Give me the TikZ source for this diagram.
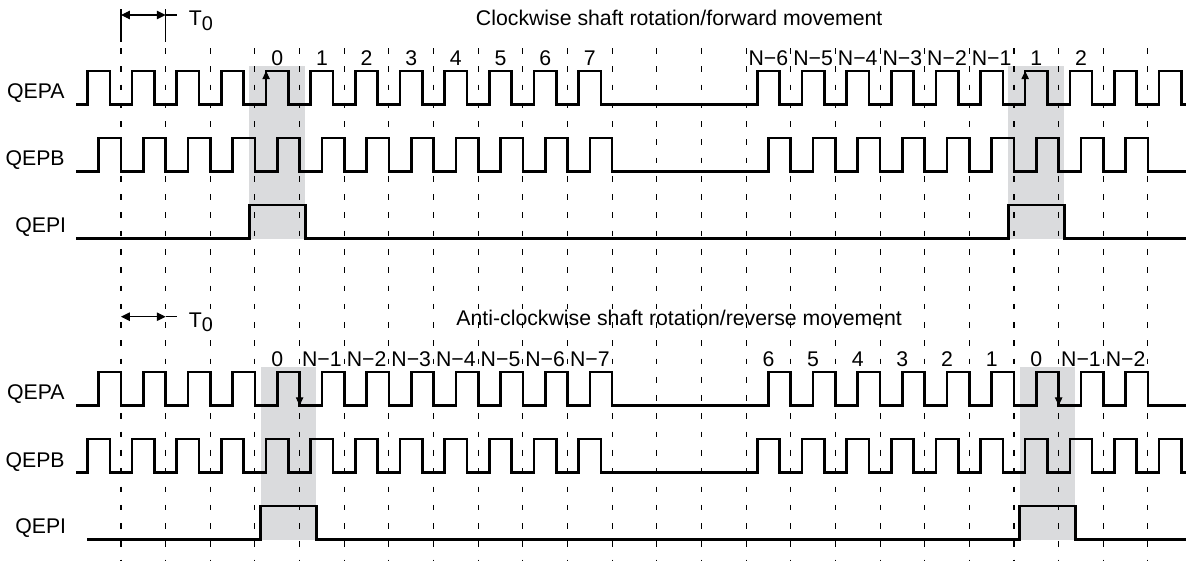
\documentclass[tikz,border=0pt]{standalone}
\usepackage{fontspec}
\setmainfont{Liberation Sans}
\usetikzlibrary{arrows.meta}
\definecolor{shadegray}{RGB}{218,219,221}
\newcommand{\gx}[1]{(121+44.65*(#1))}
\newcommand{\lowsub}[1]{\raisebox{-2.4pt}{\fontsize{11.3pt}{12pt}\selectfont #1}}
\tikzset{
  wave/.style={line width=1.5pt, line join=miter},
  gridline/.style={line width=0.6pt, dash pattern=on 3.2pt off 7.2pt},
  fine/.style={line width=0.6pt},
  dim/.style={fine, <->, >={Triangle[length=5pt,width=4.8pt]}},
  edgemark/.style={fine, ->, >={Triangle[length=4.6pt,width=4.2pt]}},
  txt/.style={inner sep=0pt, font=\fontsize{12.1pt}{14pt}\selectfont}
}

\begin{document}
\begin{tikzpicture}[x=0.02cm, y=-0.02cm]
    \useasboundingbox (0,0) rectangle (1189,561);

    % index windows
    \fill[shadegray] ({\gx{3}-5.58},66) rectangle ({\gx{4}+5.58},238.5);
    \fill[shadegray] ({\gx{20}-5.58},66) rectangle ({\gx{21}+5.58},238.5);
    \fill[shadegray] ({\gx{3}+5.58},367) rectangle ({\gx{4}+16.74},539.5);
    \fill[shadegray] ({\gx{20}+5.58},367) rectangle ({\gx{21}+16.74},539.5);

    % grid
    \foreach \k in {0,...,23}
        \draw[gridline] ({\gx{\k}},48) -- ({\gx{\k}},560);

    % period marks
    \coordinate (t0a) at (121,15);
    \coordinate (t0b) at (165.65,15);
    \coordinate (t0c) at (177.3,15);
    \draw[fine] (121,9) -- (121,42.3) (165.65,9) -- (165.65,42.3);
    \draw[dim] (t0a) -- (t0b);
    \draw[fine] (t0b) -- (t0c);
    \node[txt, anchor=base west] (t0-cw) at (188.5,26) {T\lowsub{0}};

    \coordinate (r0a) at (121,316.7);
    \coordinate (r0b) at (165.65,316.7);
    \coordinate (r0c) at (177.3,316.7);
    \draw[dim] (r0a) -- (r0b);
    \draw[fine] (r0b) -- (r0c);
    \node[txt, anchor=base west] (t0-ccw) at (188.5,327) {T\lowsub{0}};

    % titles
    \node[txt, anchor=base] (cw-title) at (679.2,26) {Clockwise shaft rotation/forward movement};
    \node[txt, anchor=base] (ccw-title) at (679.2,325.7) {Anti-clockwise shaft rotation/reverse movement};

    % signal names
    \node[txt, anchor=base east] (cw-qepa) at (65,98) {QEPA};
    \node[txt, anchor=base east] (cw-qepb) at (65,165.5) {QEPB};
    \node[txt, anchor=base east] (cw-qepi) at (66.5,232.5) {QEPI};
    \node[txt, anchor=base east] (ccw-qepa) at (65,399.5) {QEPA};
    \node[txt, anchor=base east] (ccw-qepb) at (65,467) {QEPB};
    \node[txt, anchor=base east] (ccw-qepi) at (66.5,533.5) {QEPI};

    % counts
    \foreach \k/\c in {3/0,4/1,5/2,6/3,7/4,8/5,9/6,10/7,14/N−6,15/N−5,16/N−4,17/N−3,18/N−2,19/N−1,20/1,21/2}
        \node[txt, anchor=base] (cw-count-\k) at ({\gx{\k}+22.33},65) {\c};
    \foreach \k/\c in {3/0,4/N−1,5/N−2,6/N−3,7/N−4,8/N−5,9/N−6,10/N−7,14/6,15/5,16/4,17/3,18/2,19/1,20/0,21/N−1,22/N−2}
        \node[txt, anchor=base] (ccw-count-\k) at ({\gx{\k}+22.33},366) {\c};

    % clockwise
    \draw[wave] (76,104.5)
        \foreach \k in {-1,...,10} { -- ({\gx{\k}+11.16},104.5) -- ({\gx{\k}+11.16},71) -- ({\gx{\k}+33.49},71) -- ({\gx{\k}+33.49},104.5) }
        \foreach \k in {14,...,23} { -- ({\gx{\k}+11.16},104.5) -- ({\gx{\k}+11.16},71) -- ({\gx{\k}+33.49},71) -- ({\gx{\k}+33.49},104.5) }
        -- (1186,104.5);
    \draw[wave] (76,171.5)
        \foreach \k in {-1,...,10} { -- ({\gx{\k}+22.33},171.5) -- ({\gx{\k}+22.33},138) -- ({\gx{\k}+44.65},138) -- ({\gx{\k}+44.65},171.5) }
        \foreach \k in {14,...,22} { -- ({\gx{\k}+22.33},171.5) -- ({\gx{\k}+22.33},138) -- ({\gx{\k}+44.65},138) -- ({\gx{\k}+44.65},171.5) }
        -- (1186,171.5);
    \draw[wave] (76,238.5) -- ({\gx{3}-5.58},238.5) -- ({\gx{3}-5.58},205) -- ({\gx{4}+5.58},205) -- ({\gx{4}+5.58},238.5)
        -- ({\gx{20}-5.58},238.5) -- ({\gx{20}-5.58},205) -- ({\gx{21}+5.58},205) -- ({\gx{21}+5.58},238.5) -- (1186,238.5);
    \draw[edgemark] ({\gx{3}+11.16},95) -- ({\gx{3}+11.16},71);
    \draw[edgemark] ({\gx{20}+11.16},95) -- ({\gx{20}+11.16},71);

    % anti-clockwise
    \draw[wave] (76,405.5)
        \foreach \k in {-1,...,10} { -- ({\gx{\k}+22.33},405.5) -- ({\gx{\k}+22.33},372) -- ({\gx{\k}+44.65},372) -- ({\gx{\k}+44.65},405.5) }
        \foreach \k in {14,...,22} { -- ({\gx{\k}+22.33},405.5) -- ({\gx{\k}+22.33},372) -- ({\gx{\k}+44.65},372) -- ({\gx{\k}+44.65},405.5) }
        -- (1186,405.5);
    \draw[wave] (76,472.5)
        \foreach \k in {-1,...,10} { -- ({\gx{\k}+11.16},472.5) -- ({\gx{\k}+11.16},439) -- ({\gx{\k}+33.49},439) -- ({\gx{\k}+33.49},472.5) }
        \foreach \k in {14,...,23} { -- ({\gx{\k}+11.16},472.5) -- ({\gx{\k}+11.16},439) -- ({\gx{\k}+33.49},439) -- ({\gx{\k}+33.49},472.5) }
        -- (1186,472.5);
    \draw[wave] (87.3,539.5) -- ({\gx{3}+5.58},539.5) -- ({\gx{3}+5.58},506) -- ({\gx{4}+16.74},506) -- ({\gx{4}+16.74},539.5)
        -- ({\gx{20}+5.58},539.5) -- ({\gx{20}+5.58},506) -- ({\gx{21}+16.74},506) -- ({\gx{21}+16.74},539.5) -- (1186,539.5);
    \draw[edgemark] ({\gx{4}},385) -- ({\gx{4}},405.5);
    \draw[edgemark] ({\gx{21}},385) -- ({\gx{21}},405.5);
\end{tikzpicture}
\end{document}
